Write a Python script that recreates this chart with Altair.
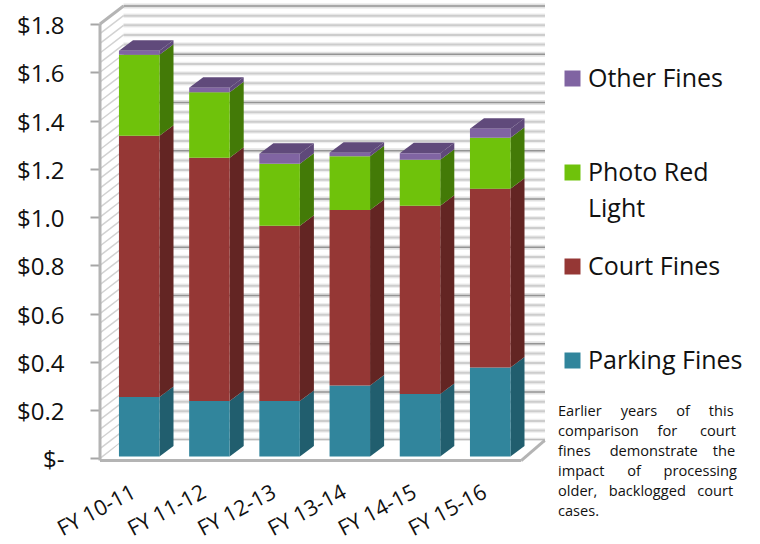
import altair as alt
import pandas as pd

# Fiscal years and revenue by fine type, in $ millions
years = ["FY 10-11", "FY 11-12", "FY 12-13", "FY 13-14", "FY 14-15", "FY 15-16"]
parking = [0.247, 0.230, 0.230, 0.294, 0.259, 0.369]
court = [1.082, 1.008, 0.726, 0.728, 0.780, 0.741]
photo = [0.336, 0.272, 0.257, 0.222, 0.191, 0.211]
other = [0.017, 0.018, 0.042, 0.015, 0.027, 0.037]

series = ["Parking Fines", "Court Fines", "Photo Red Light", "Other Fines"]
legend_order = ["Other Fines", "Photo Red Light", "Court Fines", "Parking Fines"]
front_colors = {"Parking Fines": "#31859c", "Court Fines": "#953735",
                "Photo Red Light": "#6fc20b", "Other Fines": "#8064a2"}
side_colors = {"Parking Fines": "#215e6e", "Court Fines": "#632523",
               "Photo Red Light": "#437a07", "Other Fines": "#5f497a"}
top_color = "#604a7b"

# Justified side note: non-breaking spaces widen the gaps between words
def gap(n):
    return " " + "\u00a0" * n

note_lines = [
    gap(4).join(["Earlier", "years", "of", "this"]),
    gap(4).join(["comparison", "for"]) + gap(5) + "court",
    gap(4).join(["fines", "demonstrate"]) + gap(3) + "the",
    gap(5).join(["impact", "of", "processing"]),
    gap(2).join(["older,", "backlogged", "court"]),
    "cases.",
]

FONT = "Open Sans"
WIDTH, HEIGHT = 445, 456
X_MAX = 6.339
Y_MIN, Y_MAX = -0.01535, 1.8747

# Oblique projection, expressed in axis units: the box and the bars recede
WALL_DX, WALL_DY = 0.335, 0.0747
BAR_DX, BAR_DY = 0.2, 0.0436
BAR_LEFT, BAR_WIDTH, BAR_LIFT = 0.27, 0.577, 0.0075

xs = alt.Scale(domain=[0, X_MAX], nice=False, zero=False)
ys = alt.Scale(domain=[Y_MIN, Y_MAX], nice=False, zero=False)

x_axis = alt.Axis(
    values=list(range(6)),
    labelExpr="['FY 10-11','FY 11-12','FY 12-13','FY 13-14','FY 14-15','FY 15-16'][datum.value]",
    domain=False, ticks=False, grid=False, labelAngle=-28, labelAlign="right",
    labelBaseline="middle", labelFont=FONT, labelFontSize=21.5, labelColor="#111111",
    labelPadding=29, labelOffset=34, labelFlush=False, labelOverlap=False, title=None)
y_axis = alt.Axis(
    values=[n * 0.2 for n in range(10)],
    labelExpr="datum.value == 0 ? '$-\u00a0' : '$' + format(datum.value, '.1f')",
    domain=False, grid=False, tickSize=10, tickWidth=2, tickColor="#a6a6a6",
    labelFont=FONT, labelFontSize=24, labelColor="#111111", labelPadding=26, labelOffset=2.5,
    labelOverlap=False, labelFlush=False, title=None)


def X(field):
    return alt.X(field, type="quantitative", scale=xs, axis=x_axis)


def Y(field):
    return alt.Y(field, type="quantitative", scale=ys, axis=y_axis, stack=None)


# Stacked segments with their front, side and top faces
fronts, sides, tops = [], [], []
columns = dict(zip(series, [parking, court, photo, other]))
for i, year in enumerate(years):
    base = BAR_LIFT
    x0 = i + BAR_LEFT
    x1 = x0 + BAR_WIDTH
    for name in series:
        top = base + columns[name][i]
        fronts.append(dict(series=name, x0=x0, x1=x1, y0=base, y1=top))
        key = f"{year} {name}"
        sides.append(dict(g=key, c=side_colors[name], x=x1, y=base, y2=top))
        sides.append(dict(g=key, c=side_colors[name], x=x1 + BAR_DX,
                          y=base + BAR_DY, y2=top + BAR_DY))
        base = top
    tops += [dict(g=year, x=x0, y=base, y2=base),
             dict(g=year, x=x0 + BAR_DX, y=base, y2=base + BAR_DY),
             dict(g=year, x=x1, y=base, y2=base + BAR_DY),
             dict(g=year, x=x1 + BAR_DX, y=base + BAR_DY, y2=base + BAR_DY)]

# Gridlines on the back wall and hatching on the left wall
levels = [n * 0.04 for n in range(46)]
grid = pd.DataFrame([dict(x=WALL_DX, x2=X_MAX, y=v + WALL_DY,
                          major=n % 5 == 0) for n, v in enumerate(levels)])
hatch = pd.DataFrame([dict(x=0, x2=WALL_DX, y=v, y2=v + WALL_DY) for v in levels])
floor = pd.DataFrame([dict(x=0, y=Y_MIN + .006, y2=Y_MIN + .006),
                      dict(x=WALL_DX, y=Y_MIN + .006, y2=WALL_DY),
                      dict(x=6, y=Y_MIN + .006, y2=WALL_DY),
                      dict(x=6 + WALL_DX, y=WALL_DY, y2=WALL_DY)])

edge_color = "#b4b4b4"
edges = pd.DataFrame([
    dict(x=0, x2=0, y=Y_MIN + .006, y2=1.8),
    dict(x=0, x2=WALL_DX, y=1.8, y2=1.8 + WALL_DY),
    dict(x=0, x2=6, y=Y_MIN + .006, y2=Y_MIN + .006),
    dict(x=6, x2=6 + WALL_DX, y=Y_MIN + .006, y2=WALL_DY),
])


def rules(frame, color, width):
    return alt.Chart(frame).mark_rule(color=color, strokeWidth=width).encode(
        x=X("x"), x2="x2", y=Y("y"))


# Each gridline is a soft halo under a narrower core
minor_soft = rules(grid[~grid.major], "#eeeeee", 4.5)
minor_core = rules(grid[~grid.major], "#cdcdcd", 2)
major_soft = rules(grid[grid.major], "#e2e2e2", 5)
major_line = rules(grid[grid.major], "#949494", 1.5)
hatch_layer = alt.Chart(hatch).mark_rule(color="#d2d2d2", strokeWidth=1.5).encode(
    x=X("x"), x2="x2", y=Y("y"), y2="y2")
floor_layer = alt.Chart(floor).mark_area(color="white", interpolate="linear").encode(
    x=X("x"), y=Y("y"), y2="y2")
edge_layer = alt.Chart(edges).mark_rule(color=edge_color, strokeWidth=3).encode(
    x=X("x"), x2="x2", y=Y("y"), y2="y2")

side_layer = alt.Chart(pd.DataFrame(sides)).mark_area(interpolate="linear").encode(
    x=X("x"), y=Y("y"), y2="y2", detail="g:N",
    fill=alt.Fill("c:N", scale=None, legend=None))
top_layer = alt.Chart(pd.DataFrame(tops)).mark_area(interpolate="linear", color=top_color).encode(
    x=X("x"), y=Y("y"), y2="y2", detail="g:N")
front_layer = alt.Chart(pd.DataFrame(fronts)).mark_rect().encode(
    x=X("x0"), x2="x1", y=Y("y0"), y2="y1",
    color=alt.Color("series:N", title=None,
                    scale=alt.Scale(domain=legend_order,
                                    range=[front_colors[s] for s in legend_order]),
                    legend=alt.Legend(
                        orient="none", legendX=460, legendY=60, symbolType="square",
                        symbolSize=256, symbolStrokeWidth=0, labelFont=FONT,
                        labelFontSize=25, labelColor="#111111", labelLimit=300,
                        rowPadding=68, labelOffset=3,
                        labelExpr="datum.label == 'Photo Red Light' ? 'Photo Red' : datum.label")))

# Second line of the wrapped legend entry
legend_wrap = alt.Chart(pd.DataFrame({"a": [0]})).mark_text(
    text="Light", font=FONT, fontSize=25, align="left", baseline="middle",
    color="#111111").encode(x=alt.value(488), y=alt.value(203))

note = alt.Chart(pd.DataFrame({"a": [0]})).mark_text(
    text=note_lines, font=FONT, fontSize=14.6, lineHeight=20, align="left", baseline="top",
    color="#111111").encode(x=alt.value(458), y=alt.value(397.5))

chart = alt.layer(minor_soft, minor_core, major_soft, major_line, hatch_layer, floor_layer,
                  edge_layer, side_layer, top_layer, front_layer, legend_wrap, note).properties(
    width=WIDTH, height=HEIGHT,
    padding={"left": 100, "top": 6, "right": 215, "bottom": 82},
    autosize=alt.AutoSizeParams(type="none"),
    background="white",
).configure_view(stroke=None)

chart.save("out.html", embed_options={"renderer": "svg", "actions": False})
